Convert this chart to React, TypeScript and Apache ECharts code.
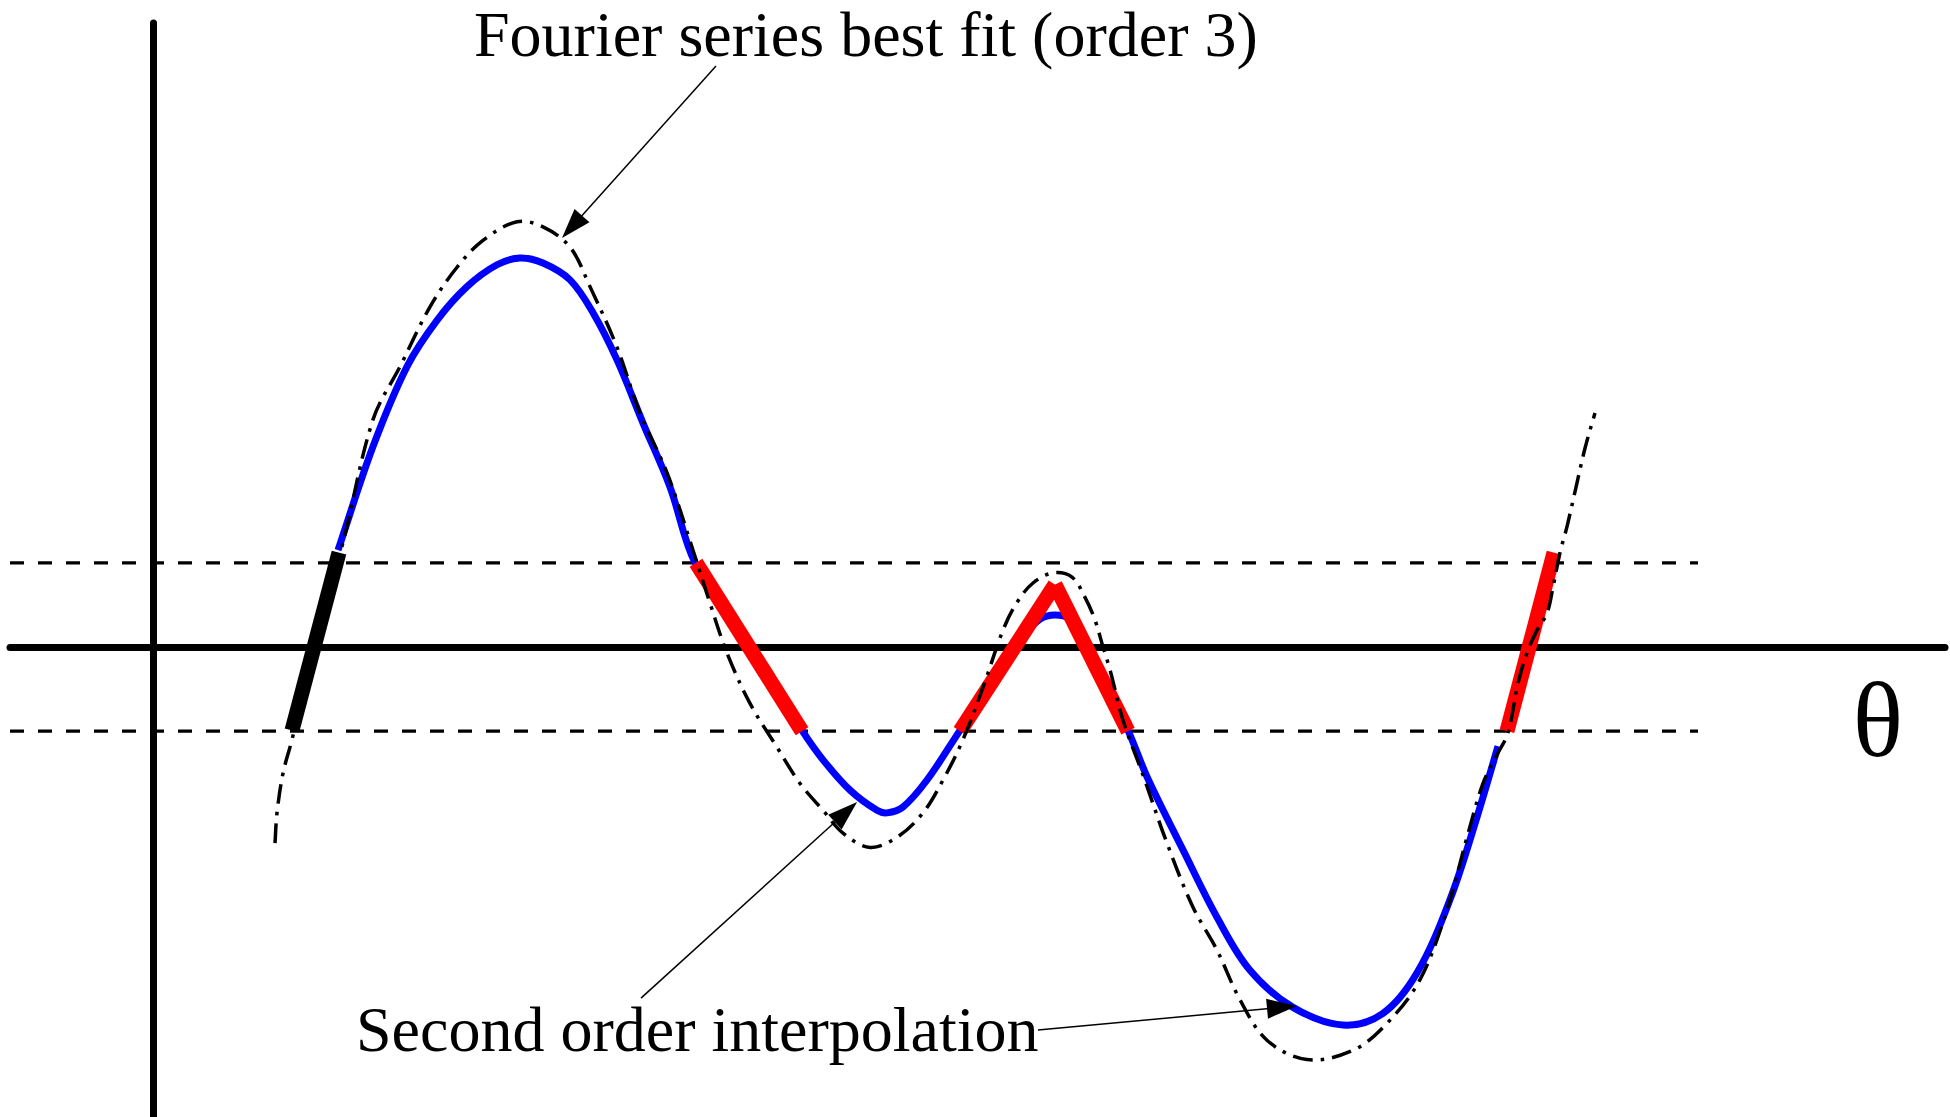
import { useEffect, useRef } from "react";
import * as echarts from "echarts";

// Plot window: θ along x, amplitude along y; both axes cross at the origin.
const THETA_MIN = -1.43;
const THETA_MAX = 17.92;
const VALUE_MIN = -5.582;
const VALUE_MAX = 7.411;

// Detection band |y| <= THRESHOLD drawn as dashed guides.
const THRESHOLD = 1;
const BAND_THETA = [-1.43, 15.45];

// Third-order Fourier series best fit (dash-dot curve).
const fourierFit: [number, number][] = [
  [1.22, -2.33], [1.24, -1.97], [1.3, -1.5], [1.39, -1.1], [1.63, 0.08],
  [1.9, 1.24], [2.2, 2.7], [2.47, 3.33], [2.77, 4.04], [3.04, 4.51],
  [3.3, 4.83], [3.64, 5.05], [3.9, 4.99], [4.17, 4.75], [4.37, 4.28],
  [4.64, 3.56], [4.87, 2.78], [5.14, 2.07], [5.4, 1.15], [5.57, 0.52],
  [5.74, -0.07], [5.97, -0.67], [6.24, -1.19], [6.47, -1.62], [6.7, -1.94],
  [6.9, -2.21], [7.17, -2.38], [7.44, -2.26], [7.7, -1.97], [7.9, -1.58],
  [8.1, -1.1], [8.3, -0.48], [8.5, 0.2], [8.64, 0.53], [8.8, 0.76],
  [9.0, 0.88], [9.19, 0.83], [9.32, 0.59], [9.42, 0.32], [9.5, 0.0],
  [9.57, -0.27], [9.7, -0.87], [9.9, -1.52], [10.14, -2.33], [10.4, -3.09],
  [10.64, -3.6], [10.87, -4.19], [11.14, -4.67], [11.54, -4.9], [12.0, -4.79],
  [12.34, -4.47], [12.67, -3.95], [12.94, -3.12], [13.14, -2.26], [13.3, -1.62],
  [13.44, -1.28], [13.55, -1.02], [13.65, -0.43], [13.74, -0.07], [13.84, 0.2],
  [13.94, 0.4], [14.0, 0.71], [14.07, 1.12], [14.14, 1.43], [14.24, 1.95],
  [14.32, 2.36], [14.42, 2.78],
];

// Second-order interpolation (solid blue curve).
const interpolation: [number, number][] = [
  [1.85, 1.15], [2.2, 2.38], [2.54, 3.33], [2.84, 3.88], [3.14, 4.28],
  [3.44, 4.54], [3.67, 4.62], [3.9, 4.56], [4.17, 4.36], [4.4, 3.97],
  [4.64, 3.41], [4.9, 2.66], [5.17, 1.9], [5.42, 1.0], [5.96, 0.0],
  [6.49, -0.99], [6.7, -1.34], [6.97, -1.7], [7.24, -1.94], [7.34, -1.97],
  [7.5, -1.9], [7.74, -1.58], [8.07, -0.99], [8.67, 0.08], [8.87, 0.33],
  [9.02, 0.38], [9.17, 0.33], [9.32, 0.08], [9.75, -0.99], [9.94, -1.54],
  [10.3, -2.41], [10.64, -3.21], [10.97, -3.84], [11.4, -4.28], [11.9, -4.49],
  [12.3, -4.35], [12.64, -3.87], [12.97, -3.0], [13.24, -2.02], [13.45, -1.18],
];

// Linear pieces across the band (red), and the first crossing (black).
const redSegments: [number, number][][] = [
  [[5.43, 1.0], [6.49, -1.0]],
  [[8.07, -1.0], [9.02, 0.74]],
  [[9.02, 0.74], [9.75, -1.0]],
  [[13.54, -1.0], [14.01, 1.12]],
];
const blackSegment: [number, number][] = [[1.39, -0.99], [1.86, 1.12]];

// Annotation arrows: [from, to] in plot coordinates.
const annotationArrows: [number, number][][] = [
  [[5.63, 6.9], [4.19, 4.99]],
  [[4.88, -4.17], [6.93, -1.96]],
  [[8.85, -4.55], [11.29, -4.28]],
];

const fitLabel = "Fourier series best fit (order 3)";
const interpLabel = "Second order interpolation";
const thetaLabel = "θ";

const SERIF = '"Liberation Serif", "Times New Roman", serif';
const TENSION = 0.35;

// Cardinal-spline path through pixel points (control arms weighted by neighbour distances).
function splinePath(p: number[][]): string {
  const n = p.length;
  const dist = (a: number[], b: number[]) => Math.hypot(a[0] - b[0], a[1] - b[1]);
  const arms = p.map((pt, i) => {
    const prev = p[Math.max(i - 1, 0)];
    const next = p[Math.min(i + 1, n - 1)];
    const d0 = dist(pt, prev);
    const d1 = dist(next, pt);
    const sum = d0 + d1 || 1;
    const vx = (next[0] - prev[0]) * TENSION;
    const vy = (next[1] - prev[1]) * TENSION;
    return {
      inX: pt[0] - (vx * d0) / sum,
      inY: pt[1] - (vy * d0) / sum,
      outX: pt[0] + (vx * d1) / sum,
      outY: pt[1] + (vy * d1) / sum,
    };
  });
  let d = `M${p[0][0]},${p[0][1]}`;
  for (let i = 0; i < n - 1; i++) {
    const a = arms[i];
    const b = arms[i + 1];
    d += ` C${a.outX},${a.outY} ${b.inX},${b.inY} ${p[i + 1][0]},${p[i + 1][1]}`;
  }
  return d;
}

function curveSeries(name: string, points: [number, number][], style: object, z: number) {
  return {
    type: "custom",
    name,
    coordinateSystem: "cartesian2d",
    data: points,
    encode: { x: 0, y: 1 },
    silent: true,
    clip: true,
    z,
    renderItem: (params: any, api: any) => {
      if (params.dataIndex !== 0) return null;
      const px = points.map((pt) => api.coord(pt));
      return {
        type: "path",
        shape: { pathData: splinePath(px) },
        style: { fill: "none", ...style },
      };
    },
  };
}

export default function App() {
  const ref = useRef<HTMLDivElement>(null);

  useEffect(() => {
    if (!ref.current) return;
    const chart = echarts.init(ref.current, null, { renderer: "svg" });

    const hiddenAxis = {
      type: "value" as const,
      axisLine: { show: true, onZero: true, lineStyle: { color: "#000", width: 7 } },
      axisTick: { show: false },
      axisLabel: { show: false },
      splitLine: { show: false },
    };

    const bandLine = (y: number) => ({
      type: "line",
      data: [[BAND_THETA[0], y], [BAND_THETA[1], y]],
      symbol: "none",
      lineStyle: { color: "#000", width: 3.2, type: [14, 14] },
      silent: true,
      z: 1,
    });

    const segmentSeries = (seg: [number, number][], color: string) => ({
      type: "line",
      data: seg,
      symbol: "none",
      lineStyle: { color, width: 15, cap: "butt" },
      silent: true,
      z: 4,
    });

    chart.setOption({
      animation: false,
      backgroundColor: "#fff",
      grid: { left: 10, right: 5, top: 23, bottom: 0 },
      xAxis: { ...hiddenAxis, min: THETA_MIN, max: THETA_MAX },
      yAxis: { ...hiddenAxis, min: VALUE_MIN, max: VALUE_MAX },
      series: [
        {
          ...bandLine(THRESHOLD),
          markLine: {
            silent: true,
            symbol: ["none", "triangle"],
            symbolSize: [20, 30],
            label: { show: false },
            emphasis: { disabled: true },
            lineStyle: { color: "#000", width: 1.5, type: "solid" },
            data: annotationArrows.map(([a, b]) => [{ coord: a }, { coord: b }]),
          },
        },
        bandLine(-THRESHOLD),
        curveSeries(interpLabel, interpolation, { stroke: "#0000ff", lineWidth: 7 }, 3),
        ...redSegments.map((s) => segmentSeries(s, "#ff0000")),
        segmentSeries(blackSegment, "#000"),
        curveSeries(
          fitLabel,
          fourierFit,
          { stroke: "#000", lineWidth: 3.5, lineDash: [20, 8, 3.5, 8] },
          5
        ),
      ],
      graphic: [
        {
          type: "text",
          x: 474,
          y: 34,
          z: 10,
          style: {
            text: fitLabel,
            font: `64px ${SERIF}`,
            fill: "#000",
            textAlign: "left",
            textVerticalAlign: "middle",
          },
        },
        {
          type: "text",
          x: 356,
          y: 1029,
          z: 10,
          style: {
            text: interpLabel,
            font: `64px ${SERIF}`,
            fill: "#000",
            textAlign: "left",
            textVerticalAlign: "middle",
          },
        },
        {
          type: "text",
          x: 1878,
          y: 720,
          z: 10,
          style: {
            text: thetaLabel,
            font: `105px ${SERIF}`,
            fill: "#000",
            textAlign: "center",
            textVerticalAlign: "middle",
          },
        },
      ],
    });

    return () => chart.dispose();
  }, []);

  return (
    <div
      ref={ref}
      style={{ position: "fixed", left: 0, top: 0, width: 1950, height: 1117, background: "#fff" }}
    />
  );
}
